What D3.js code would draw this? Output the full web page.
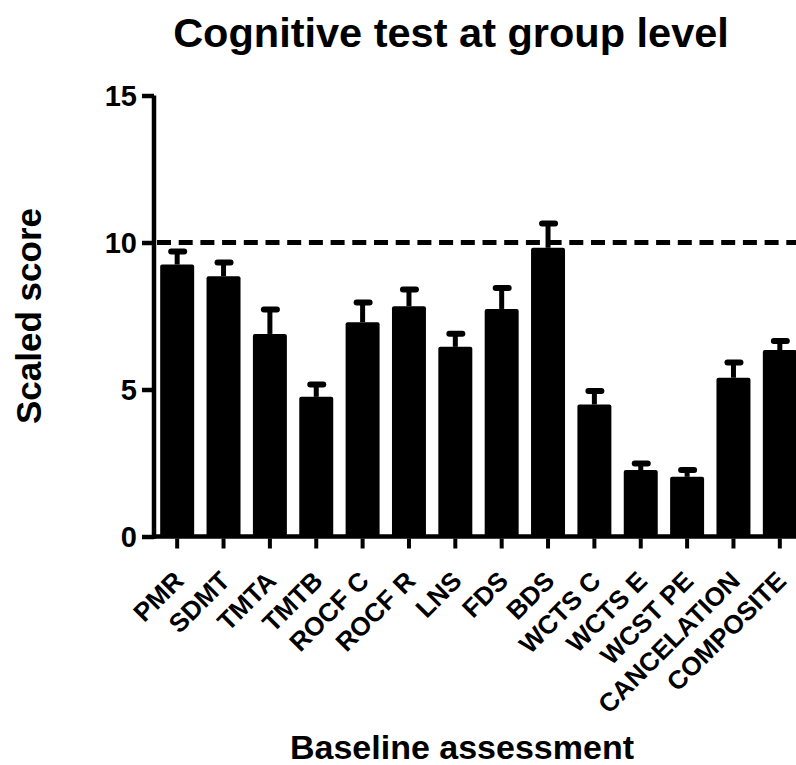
<!DOCTYPE html>
<html>
<head>
<meta charset="utf-8">
<script src="https://cdn.jsdelivr.net/npm/d3@7"></script>
<style>
  html, body { margin: 0; padding: 0; background: #fff; }
  svg { display: block; }
  text { font-family: "Liberation Sans", Arial, sans-serif; font-weight: bold; fill: #000; }
</style>
</head>
<body>
<svg id="chart" width="796" height="765"></svg>
<script>
// Cognitive test scores (scaled) at baseline, group mean with SEM
const categories = ["PMR", "SDMT", "TMTA", "TMTB", "ROCF C", "ROCF R", "LNS", "FDS", "BDS",
                    "WCTS C", "WCTS E", "WCST PE", "CANCELATION", "COMPOSITE"];
const means = [9.25, 8.85, 6.89, 4.75, 7.29, 7.83, 6.45, 7.74, 9.82, 4.49, 2.26, 2.03, 5.40, 6.34];
const sems  = [0.44, 0.47, 0.83, 0.42, 0.67, 0.57, 0.45, 0.71, 0.83, 0.46, 0.22, 0.23, 0.52, 0.31];
const yTicks = [0, 5, 10, 15];
const referenceScore = 10;

const svg = d3.select("#chart");

const x = d3.scaleBand()
  .domain(categories)
  .range([154, 803])
  .paddingInner(0.267)
  .paddingOuter(0.1335);

const y = d3.scaleLinear().domain([0, 15]).range([536.5, 95.5]);

// Bars
svg.append("g").selectAll("rect")
  .data(categories)
  .join("rect")
  .attr("x", d => x(d))
  .attr("y", (d, i) => y(means[i]))
  .attr("width", x.bandwidth())
  .attr("height", (d, i) => y(0) - y(means[i]))
  .attr("rx", 2)
  .attr("fill", "#000");

// Error bars (upper half only)
const err = svg.append("g");
categories.forEach((c, i) => {
  const cx = x(c) + x.bandwidth() / 2;
  err.append("line")
    .attr("x1", cx).attr("x2", cx)
    .attr("y1", y(means[i])).attr("y2", y(means[i] + sems[i]))
    .attr("stroke", "#000").attr("stroke-width", 5);
  err.append("line")
    .attr("x1", cx - 6).attr("x2", cx + 7)
    .attr("y1", y(means[i] + sems[i])).attr("y2", y(means[i] + sems[i]))
    .attr("stroke", "#000").attr("stroke-width", 6)
    .attr("stroke-linecap", "round");
});

// Normative reference line
svg.append("line")
  .attr("x1", 157).attr("x2", 796)
  .attr("y1", y(referenceScore)).attr("y2", y(referenceScore))
  .attr("stroke", "#000").attr("stroke-width", 5)
  .attr("stroke-dasharray", "14,7.7");

// Y axis
const yAxis = svg.append("g").attr("transform", "translate(154,0)")
  .call(d3.axisLeft(y).tickValues(yTicks).tickSize(12).tickPadding(5).tickFormat(d3.format("d")));
yAxis.select(".domain").attr("stroke", "#000").attr("stroke-width", 4.5)
  .attr("d", `M0,${y(15)}V${y(0) + 2.2}`);
yAxis.selectAll(".tick line").attr("stroke", "#000").attr("stroke-width", 4.5);
yAxis.selectAll(".tick text").style("font-size", "29px").attr("dy", "0.36em");

// X axis
const xAxis = svg.append("g").attr("transform", `translate(0,${y(0)})`)
  .call(d3.axisBottom(x).tickSize(12).tickSizeOuter(0));
xAxis.select(".domain").attr("stroke", "#000").attr("stroke-width", 4.5)
  .attr("d", `M152,0H796`);
xAxis.selectAll(".tick line").attr("stroke", "#000").attr("stroke-width", 4).attr("y1", 2);
xAxis.selectAll(".tick text")
  .style("font-size", "26px")
  .attr("text-anchor", "end")
  .attr("dy", null)
  .attr("y", 0)
  .attr("transform", "translate(8,46) rotate(-45)");

// Titles
svg.append("text")
  .attr("x", 451).attr("y", 47)
  .attr("text-anchor", "middle")
  .style("font-size", "41.5px")
  .text("Cognitive test at group level");

svg.append("text")
  .attr("x", 462).attr("y", 759)
  .attr("text-anchor", "middle")
  .style("font-size", "34px")
  .text("Baseline assessment");

svg.append("text")
  .attr("transform", "translate(41,316) rotate(-90)")
  .attr("text-anchor", "middle")
  .style("font-size", "35px")
  .text("Scaled score");
</script>
</body>
</html>
